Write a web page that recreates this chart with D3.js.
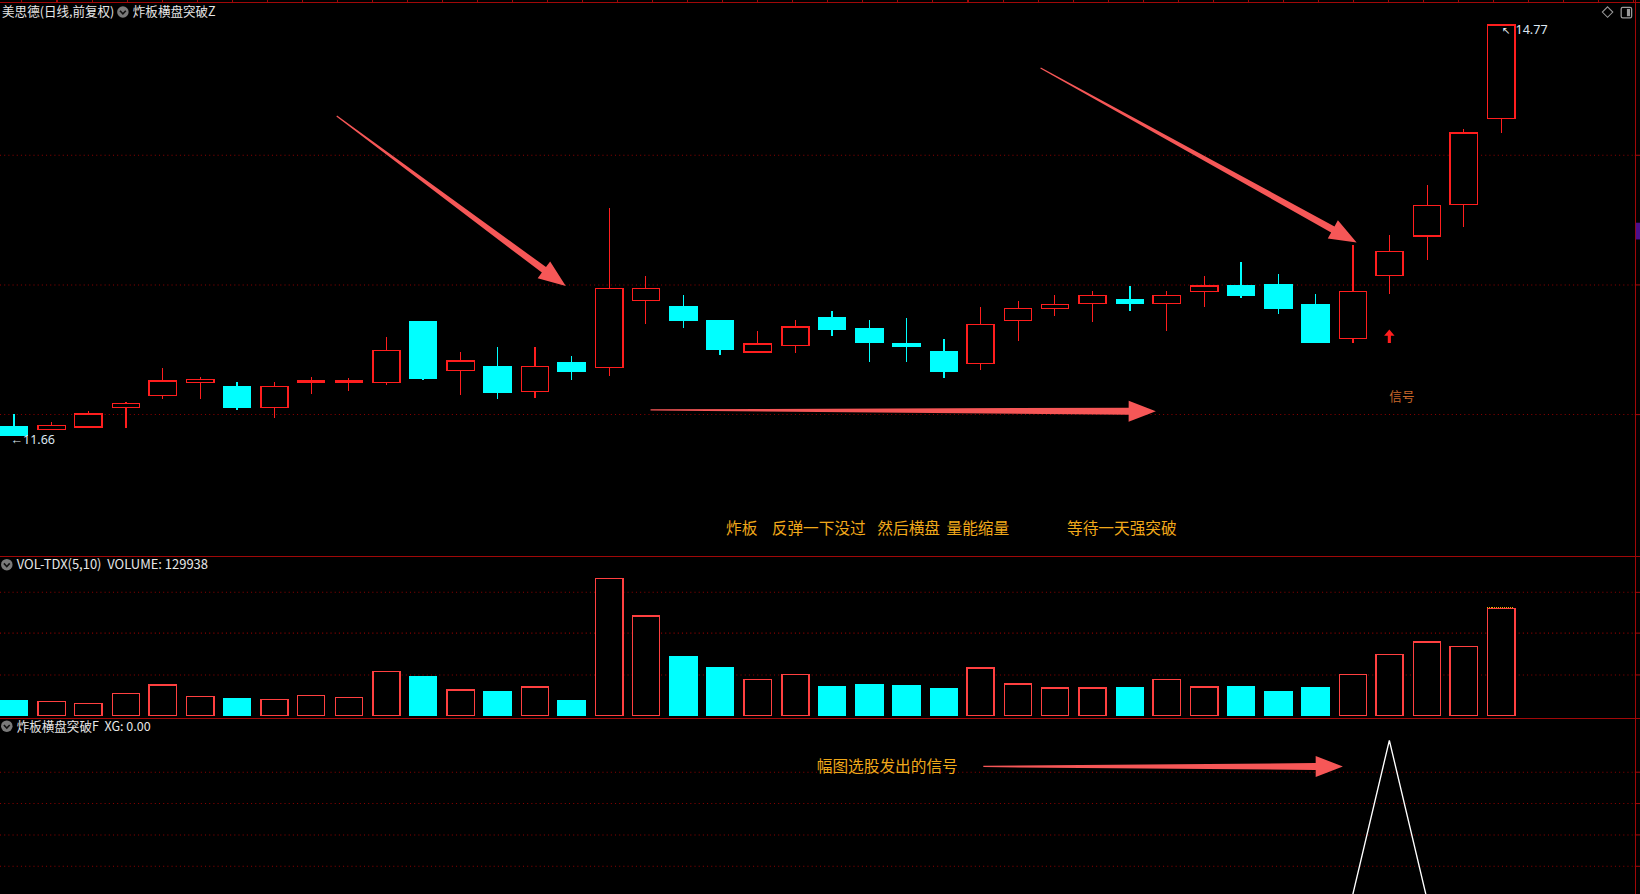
<!DOCTYPE html>
<html><head><meta charset="utf-8">
<script src="https://cdn.jsdelivr.net/npm/d3@7/dist/d3.min.js"></script>
<style>html,body{margin:0;padding:0;background:#000;overflow:hidden}</style>
</head><body>
<svg id="c" width="1640" height="894" viewBox="0 0 1568 855" preserveAspectRatio="none"></svg>
<script>
// ---------- data ----------
const days = d3.range(1, 42);
const openP  = [11.72,11.70,11.72,11.87,11.96,12.06,12.03,11.87,12.06,12.06,12.06,12.52,12.15,12.18,11.99,12.21,12.17,12.68,12.63,12.53,12.29,12.34,12.55,12.47,12.35,12.29,12.20,12.53,12.62,12.66,12.69,12.66,12.75,12.79,12.80,12.65,12.39,12.87,13.17,13.41,14.06];
const closeP = [11.66,11.73,11.82,11.90,12.07,12.08,11.87,12.03,12.07,12.07,12.30,12.09,12.22,11.98,12.18,12.14,12.77,12.77,12.53,12.31,12.35,12.48,12.46,12.36,12.33,12.14,12.50,12.62,12.65,12.72,12.66,12.72,12.79,12.72,12.62,12.36,12.75,13.05,13.40,13.95,14.77];
const highP  = [11.82,11.76,11.84,11.91,12.17,12.10,12.06,12.06,12.10,12.09,12.40,12.52,12.29,12.33,12.33,12.26,13.38,12.87,12.72,12.53,12.45,12.53,12.60,12.53,12.55,12.39,12.63,12.68,12.72,12.75,12.79,12.75,12.87,12.97,12.88,12.73,13.10,13.18,13.56,13.98,14.77];
const lowP   = [11.66,11.70,11.71,11.71,11.93,11.93,11.85,11.79,11.97,11.99,12.04,12.08,11.96,11.93,11.94,12.08,12.11,12.50,12.47,12.27,12.28,12.28,12.41,12.21,12.21,12.09,12.15,12.37,12.56,12.52,12.60,12.45,12.63,12.70,12.58,12.36,12.36,12.73,12.99,13.24,13.95];
const volume = [17800,16500,14000,26700,36800,22900,20300,19100,24100,21600,53400,47000,30500,29200,34300,17800,166400,120700,71200,57200,43200,49600,34300,36800,35600,31800,57200,38100,33000,33000,33000,43200,34300,34300,28000,33000,49600,73700,88900,83900,129938];
const xgSignal = [0,0,0,0,0,0,0,0,0,0,0,0,0,0,0,0,0,0,0,0,0,0,0,0,0,0,0,0,0,0,0,0,0,0,0,0,0,1,0,0,0];
const priceGrid = [11.82, 12.80, 13.79];
const volGrid = [50000, 100000, 150000];
const xgGrid = [0.2, 0.4, 0.6, 0.8];
const priceMin = 11.66, priceMax = 14.77;
const titleMain = "美思德(日线,前复权)";
const indMain = "炸板横盘突破Z";
const volTitle = "VOL-TDX(5,10)  VOLUME: 129938";
const indSub = "炸板横盘突破F  XG: 0.00";
const noteTexts = ["炸板", "反弹一下没过", "然后横盘", "量能缩量", "等待一天强突破"];
const noteAt = [19.16, 20.39, 23.23, 25.09, 28.33];
const note2 = "幅图选股发出的信号";
// arrows: [fromIndex, fromValue, toIndex, toValue, panel]
const arrows = [
  [8.69, 14.08, 14.85, 12.79, "p"],
  [27.62, 14.445, 36.12, 13.12, "p"],
  [17.13, 11.85, 30.72, 11.84, "p"],
  [26.08, 0.833, 35.75, 0.833, "x"]
];

// ---------- layout ----------
const W = 1568, RB = 1563;
const svg = d3.select("#c");
const RED = "#ff1e1e", VRED = "#ff4040", CYAN = "#00ffff", GRID = "#8a0000", FRAME = "#a00808";
const CJK = "'Noto Sans CJK SC','Noto Sans',sans-serif";

const x = d3.scaleLinear().domain([0, 40]).range([13, 1435]);
const yP = d3.scaleLinear().domain([priceMin, priceMax]).range([416, 24]);
const yV = d3.scaleLinear().domain([0, 150000]).range([684, 566]);
const yX = d3.scaleLinear().domain([0, 1]).range([858, 708]);
const BW = 26;

svg.append("rect").attr("width", W).attr("height", 855).attr("fill", "#000");

// grids
function hgrid(vals, sc) {
  svg.append("g").selectAll("line").data(vals).join("line")
    .attr("x1", 0).attr("x2", RB).attr("y1", d => Math.round(sc(d)) + 0.5).attr("y2", d => Math.round(sc(d)) + 0.5)
    .attr("stroke", GRID).attr("stroke-width", 1).attr("stroke-dasharray", "1,3");
  svg.append("g").selectAll("line").data(vals).join("line")
    .attr("x1", RB).attr("x2", W).attr("y1", d => Math.round(sc(d)) + 0.5).attr("y2", d => Math.round(sc(d)) + 0.5)
    .attr("stroke", FRAME).attr("stroke-width", 1);
}
hgrid(priceGrid, yP);
hgrid(volGrid, yV);
hgrid(xgGrid, yX);

// frame
const frame = svg.append("g").attr("stroke", FRAME).attr("stroke-width", 1).attr("shape-rendering", "crispEdges");
frame.append("line").attr("x1", 0).attr("x2", W).attr("y1", 2.5).attr("y2", 2.5);
frame.append("line").attr("x1", 0).attr("x2", W).attr("y1", 532.5).attr("y2", 532.5);
frame.append("line").attr("x1", 0).attr("x2", W).attr("y1", 687.5).attr("y2", 687.5);
frame.append("line").attr("x1", RB + 0.5).attr("x2", RB + 0.5).attr("y1", 0).attr("y2", 855);
frame.selectAll("line.tk").data(d3.range(21, RB, 33.5)).join("line").attr("class", "tk")
  .attr("x1", d => d).attr("x2", d => d).attr("y1", 0).attr("y2", 2.5);
svg.append("rect").attr("x", RB + 1).attr("y", 213).attr("width", 5).attr("height", 16).attr("fill", "#4b0f8c");

// candles
const cg = svg.append("g").attr("shape-rendering", "crispEdges");
const cd = days.map((d, i) => ({i, o: openP[i], c: closeP[i], h: highP[i], l: lowP[i], v: volume[i]}));
const up = d => d.c >= d.o;
cg.selectAll("line.wu").data(cd).join("line")
  .attr("x1", d => Math.round(x(d.i)) + 0.5).attr("x2", d => Math.round(x(d.i)) + 0.5)
  .attr("y1", d => yP(d.h)).attr("y2", d => yP(Math.max(d.o, d.c)))
  .attr("stroke", d => up(d) ? RED : CYAN).attr("stroke-width", 1.2);
cg.selectAll("line.wl").data(cd).join("line")
  .attr("x1", d => Math.round(x(d.i)) + 0.5).attr("x2", d => Math.round(x(d.i)) + 0.5)
  .attr("y1", d => yP(Math.min(d.o, d.c))).attr("y2", d => yP(d.l))
  .attr("stroke", d => up(d) ? RED : CYAN).attr("stroke-width", 1.2);
cg.selectAll("rect").data(cd).join("rect")
  .attr("x", d => Math.round(x(d.i) - BW / 2) + 0.5)
  .attr("y", d => yP(Math.max(d.o, d.c)))
  .attr("width", BW)
  .attr("height", d => Math.max(1.5, yP(Math.min(d.o, d.c)) - yP(Math.max(d.o, d.c))))
  .attr("fill", d => up(d) ? "#000" : CYAN)
  .attr("stroke", d => up(d) ? RED : CYAN).attr("stroke-width", 1.3);

// volume bars
const vg = svg.append("g").attr("shape-rendering", "crispEdges");
vg.selectAll("rect").data(cd).join("rect")
  .attr("x", d => Math.round(x(d.i) - BW / 2) + 0.5)
  .attr("y", d => yV(d.v)).attr("width", BW)
  .attr("height", d => yV(0) - yV(d.v))
  .attr("fill", d => up(d) ? "#000" : CYAN)
  .attr("stroke", d => up(d) ? VRED : CYAN).attr("stroke-width", 1.3);
const lastD = cd[cd.length - 1];
vg.append("line").attr("x1", x(lastD.i) - BW / 2).attr("x2", x(lastD.i) + BW / 2)
  .attr("y1", yV(lastD.v) - 1.2).attr("y2", yV(lastD.v) - 1.2)
  .attr("stroke", "#e8b000").attr("stroke-width", 1).attr("stroke-dasharray", "1,1");

// XG line
const line = d3.line().x((d, i) => x(i)).y(d => yX(d));
svg.append("path").datum(xgSignal).attr("d", line).attr("fill", "none")
  .attr("stroke", "#ffffff").attr("stroke-width", 1.3);

// signal arrow and label under the signal candle
const sigI = xgSignal.indexOf(1);
const sx = x(sigI), sy = yP(lowP[sigI]) + 34;
svg.append("path").attr("d", `M${sx},${sy} l-5,6 h3.5 v7 h3 v-7 h3.5 z`).attr("fill", RED);
svg.append("text").attr("x", sx).attr("y", sy + 68).text("信号")
  .attr("font-family", CJK).attr("font-size", 12).attr("fill", "#c8682a");

// hi/lo labels
const iHi = highP.indexOf(d3.max(highP)), iLo = lowP.indexOf(d3.min(lowP));
svg.append("text").attr("x", x(iHi) + 1).attr("y", yP(highP[iHi]) + 9).text("↖")
  .attr("font-family", "DejaVu Sans").attr("font-size", 10).attr("fill", "#e8eef5");
svg.append("text").attr("x", x(iHi) + 14).attr("y", yP(highP[iHi]) + 9).text(d3.format(".2f")(highP[iHi]))
  .attr("font-family", "'Noto Sans',sans-serif").attr("font-size", 12).attr("fill", "#dce6f0");
svg.append("text").attr("x", x(iLo) - 3).attr("y", yP(lowP[iLo]) + 8.5).text("←" + d3.format(".2f")(lowP[iLo]))
  .attr("font-family", "'Noto Sans',sans-serif").attr("font-size", 12).attr("fill", "#dce6f0");

// arrows
const AC = "#f65757";
function arrow(a) {
  const sc = a[4] === "p" ? yP : yX;
  const x0 = x(a[0]), y0 = sc(a[1]), x1 = x(a[2]), y1 = sc(a[3]);
  const dx = x1 - x0, dy = y1 - y0, L = Math.hypot(dx, dy);
  const ux = dx / L, uy = dy / L, nx = -uy, ny = ux;
  const hl = 26, hw = 10, w0 = 0.6, w1 = 3.3;
  const bx = x1 - ux * hl, by = y1 - uy * hl;
  const pts = [
    [x0 + nx * w0, y0 + ny * w0], [bx + nx * w1, by + ny * w1], [bx + nx * hw, by + ny * hw], [x1, y1],
    [bx - nx * hw, by - ny * hw], [bx - nx * w1, by - ny * w1], [x0 - nx * w0, y0 - ny * w0]
  ];
  svg.append("path").attr("d", "M" + pts.map(p => p.join(",")).join("L") + "Z").attr("fill", AC);
}
arrows.forEach(arrow);

// notes
const ORANGE = "#f0a81a";
svg.append("g").selectAll("text").data(noteTexts).join("text")
  .attr("x", (d, i) => x(noteAt[i])).attr("y", 511).text(d => d)
  .attr("font-family", CJK).attr("font-size", 15).attr("fill", ORANGE);
svg.append("text").attr("x", x(21.6)).attr("y", 738.5).text(note2)
  .attr("font-family", CJK).attr("font-size", 15).attr("fill", ORANGE);

// headers
function icon(cx, cy) {
  svg.append("circle").attr("cx", cx).attr("cy", cy).attr("r", 5.5).attr("fill", "#7a7a7a");
  svg.append("path").attr("d", `M${cx - 2.8},${cy - 1.2} L${cx},${cy + 1.8} L${cx + 2.8},${cy - 1.2}`)
    .attr("fill", "none").attr("stroke", "#111").attr("stroke-width", 1.5);
}
const HF = 12, HC = "#e6e6e6";
svg.append("text").attr("x", 2).attr("y", 15.5).text(titleMain).attr("font-family", CJK).attr("font-size", HF).attr("fill", HC);
icon(117.5, 11.5);
svg.append("text").attr("x", 127).attr("y", 15.5).text(indMain).attr("font-family", CJK).attr("font-size", HF).attr("fill", HC);
icon(6.5, 540);
svg.append("text").attr("x", 16).attr("y", 544.5).text(volTitle).attr("font-family", CJK).attr("font-size", 12.4).attr("fill", HC).style("white-space", "pre");
icon(6.5, 694.5);
svg.append("text").attr("x", 16).attr("y", 699).text(indSub).attr("font-family", CJK).attr("font-size", HF).attr("fill", HC).style("white-space", "pre");

// top-right icons
svg.append("path").attr("d", "M1537,6.5 L1542,11.5 L1537,16.5 L1532,11.5 Z").attr("fill", "none").attr("stroke", "#9a9a9a").attr("stroke-width", 1);
svg.append("rect").attr("x", 1550).attr("y", 7).attr("width", 10).attr("height", 10).attr("rx", 1.5).attr("fill", "none").attr("stroke", "#9a9a9a").attr("stroke-width", 1.2);
svg.append("rect").attr("x", 1555.5).attr("y", 8.5).attr("width", 3).attr("height", 7).attr("fill", "#9a9a9a");
</script>
</body></html>
